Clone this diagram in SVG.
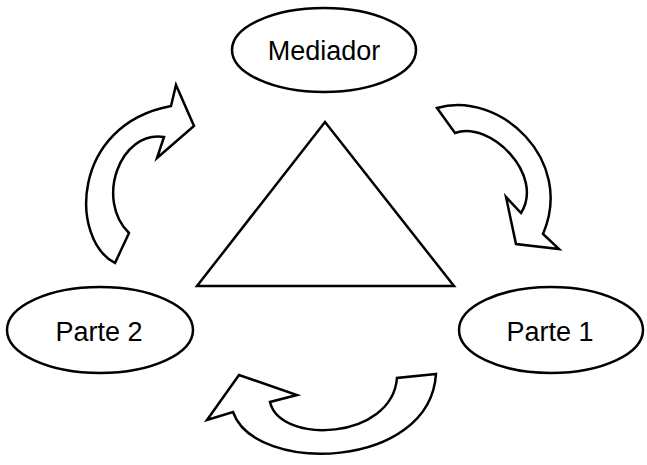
<svg xmlns="http://www.w3.org/2000/svg" width="647" height="465" viewBox="0 0 647 465">
<style>
.shape{fill:#fff;stroke:#000;stroke-width:2.5;stroke-linejoin:miter}
.lbl{font-family:"Liberation Sans",Arial,sans-serif;font-size:27px;fill:#000;text-anchor:middle}
</style>
<rect width="647" height="465" fill="#fff"/>
<g id="triangle">
<polygon class="shape" points="325,122 197,286 454,286"/>
</g>
<g id="connectors">
<path class="shape" d="M115,263 C70,240 70,125 171,106 L176,85 L194,126 L157,158 L164,137 C120,130 95,200 129,233 Z"/>
<path class="shape" d="M437,108 C500,90 575,160 543,234 L559,249 L516,244 L506,197 L521,213 C545,175 490,120 455,133 Z"/>
<path class="shape" d="M436,374 L397,378 C392,440 280,445 270,402 L297,395 L239,375 L207,420 L233,412 C255,475 430,470 436,374 Z"/>
</g>
<g id="mediador">
<ellipse class="shape" cx="324" cy="50" rx="92" ry="42"/>
<text class="lbl" x="324" y="60">Mediador</text>
</g>
<g id="parte2">
<ellipse class="shape" cx="100" cy="330" rx="93" ry="43"/>
<text class="lbl" x="99" y="341">Parte 2</text>
</g>
<g id="parte1">
<ellipse class="shape" cx="551" cy="330" rx="92" ry="43"/>
<text class="lbl" x="550" y="341">Parte 1</text>
</g>
</svg>
